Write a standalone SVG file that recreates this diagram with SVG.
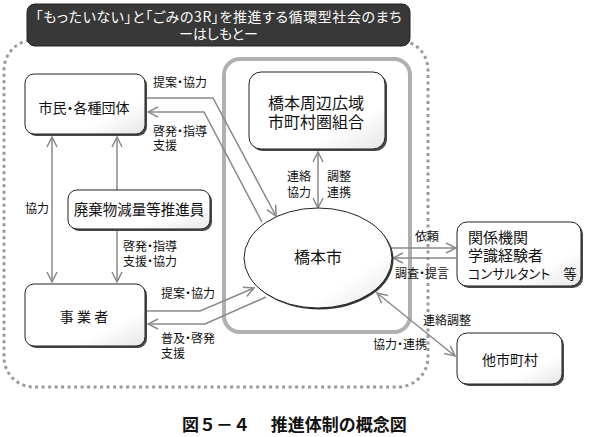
<svg xmlns="http://www.w3.org/2000/svg" width="590" height="437" viewBox="0 0 590 437">
<style>
text{font-family:"Noto Sans CJK JP","Noto Sans CJK SC",sans-serif;font-feature-settings:"palt";fill:#111}
.lbl{font-size:12px}
.nd{font-size:14px}
.big{font-size:16px}
.box{fill:url(#g);stroke:#222;stroke-width:1}
.sh{fill:#4a4a4a}
.cn{fill:none;stroke:#8a8a8a;stroke-width:1.5}
.ma{marker-end:url(#ah)}
.mb{marker-start:url(#ah);marker-end:url(#ah)}
</style>
<defs>
<linearGradient id="g" x1="0" y1="0" x2="1" y2="1">
<stop offset="0" stop-color="#ffffff"/><stop offset="0.7" stop-color="#ffffff"/><stop offset="1" stop-color="#e6e6e6"/>
</linearGradient>
<marker id="ah" viewBox="0 0 12 12" refX="11" refY="6" markerWidth="12" markerHeight="12" markerUnits="userSpaceOnUse" orient="auto-start-reverse">
<path d="M1,1 L11,6 L1,11" fill="none" stroke="#8a8a8a" stroke-width="1.5"/>
</marker>
</defs>
<rect width="590" height="437" fill="#fff"/>
<g id="frame">
<rect x="4" y="40" width="424" height="347" rx="30" fill="none" stroke="#9a9a9a" stroke-width="3" stroke-dasharray="3 3.5"/>
</g>
<g id="title">
<rect x="27" y="4" width="383" height="42" rx="8" fill="#383838" stroke="#222" stroke-width="1"/>
<text font-size="14" text-anchor="middle" style="fill:#fff"><tspan x="218.5" y="22" textLength="366" lengthAdjust="spacing">「もったいない」と「ごみの3R」を推進する循環型社会のまち</tspan><tspan x="218.5" y="39">ーはしもとー</tspan></text>
</g>
<g id="city-area">
<rect x="224" y="59" width="186" height="273" rx="16" fill="none" stroke="#b0b0b0" stroke-width="4"/>
</g>
<g id="connectors">
<line class="cn mb" x1="52" y1="137" x2="52" y2="282"/>
<line class="cn ma" x1="117" y1="190" x2="117" y2="137"/>
<line class="cn ma" x1="117" y1="230" x2="117" y2="282"/>
<polyline class="cn ma" points="147,98 213,98 276,216"/>
<polyline class="cn ma" points="262,222 204,112 148,112"/>
<polyline class="cn ma" points="147,311 200,311 254,288"/>
<polyline class="cn ma" points="266,297 205,324 148,324"/>
<line class="cn mb" x1="318" y1="152" x2="318" y2="208"/>
<line class="cn ma" x1="391" y1="248" x2="456" y2="248"/>
<line class="cn ma" x1="456" y1="258" x2="393" y2="258"/>
<line class="cn mb" x1="377" y1="293" x2="455" y2="356"/>
<text class="lbl" x="153" y="87">提案・協力</text>
<text class="lbl"><tspan x="153" y="136">啓発・指導</tspan><tspan x="153" y="150">支援</tspan></text>
<text class="lbl" x="25" y="213">協力</text>
<text class="lbl"><tspan x="123" y="251">啓発・指導</tspan><tspan x="123" y="266">支援・協力</tspan></text>
<text class="lbl" x="161" y="298">提案・協力</text>
<text class="lbl"><tspan x="161" y="343">普及・啓発</tspan><tspan x="161" y="358">支援</tspan></text>
<text class="lbl"><tspan x="287" y="181">連絡</tspan><tspan x="287" y="197">協力</tspan></text>
<text class="lbl"><tspan x="327" y="181">調整</tspan><tspan x="327" y="197">連携</tspan></text>
<text class="lbl" x="415" y="241">依頼</text>
<text class="lbl" x="395" y="278">調査・提言</text>
<text class="lbl" x="423" y="325">連絡調整</text>
<text class="lbl" x="373" y="349">協力・連携</text>
</g>
<g id="shimin">
<rect class="sh" x="27" y="76" width="120" height="60" rx="9"/>
<rect class="box" x="25" y="74" width="120" height="60" rx="9"/>
<text class="nd" x="84" y="113" text-anchor="middle">市民・各種団体</text>
</g>
<g id="kouiki">
<rect class="sh" x="251" y="74" width="136" height="77" rx="12"/>
<rect class="box" x="249" y="72" width="136" height="77" rx="12"/>
<text class="big" text-anchor="middle"><tspan x="316" y="109">橋本周辺広域</tspan><tspan x="316" y="128">市町村圏組合</tspan></text>
</g>
<g id="suishinin">
<rect class="sh" x="70" y="192" width="142" height="39" rx="9"/>
<rect class="box" x="68" y="190" width="142" height="39" rx="9"/>
<text x="139" y="214.5" font-size="14.5" text-anchor="middle">廃棄物減量等推進員</text>
</g>
<g id="jigyousha">
<rect class="sh" x="27" y="286" width="120" height="62" rx="9"/>
<rect class="box" x="25" y="284" width="120" height="62" rx="9"/>
<text class="nd" x="84" y="322" text-anchor="middle">事 業 者</text>
</g>
<g id="hashimoto">
<ellipse cx="319.5" cy="259.5" rx="74" ry="50" fill="#333"/>
<ellipse cx="318" cy="258" rx="74" ry="50" fill="url(#g)" stroke="#222" stroke-width="1"/>
<text class="big" x="318" y="263" text-anchor="middle">橋本市</text>
</g>
<g id="kankei">
<rect class="sh" x="459" y="224" width="124" height="64" rx="10"/>
<rect class="box" x="457" y="222" width="124" height="64" rx="10"/>
<text font-size="15"><tspan x="468" y="243">関係機関</tspan><tspan x="468" y="261">学識経験者</tspan><tspan x="468" y="279" font-size="13.2">コンサルタント　等</tspan></text>
</g>
<g id="tashichouson">
<rect class="sh" x="459" y="335" width="105" height="51" rx="10"/>
<rect class="box" x="457" y="333" width="105" height="51" rx="10"/>
<text class="nd" x="510" y="365" text-anchor="middle">他市町村</text>
</g>
<g id="caption">
<text x="182" y="431" font-size="17" font-weight="bold" style="font-feature-settings:normal" xml:space="preserve">図５－４　 推進体制の概念図</text>
</g>
</svg>
